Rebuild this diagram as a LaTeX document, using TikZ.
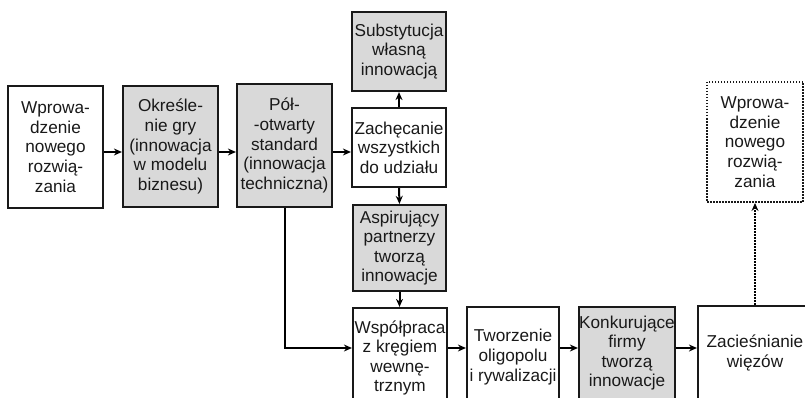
\documentclass[tikz,border=0pt]{standalone}
\usepackage{fontspec}
\setmainfont{Liberation Sans}
\usetikzlibrary{arrows.meta,positioning}

\begin{document}
\begin{tikzpicture}[x=1pt, y=-1pt, arrow/.style = {line width=2pt,-{Stealth[length=8pt,width=7pt]}}]
		\tikzset{box/.style={draw=black!90,line width=2.2pt,inner sep=0pt,align=center,text=black!90,font=\fontsize{17.2}{19.6}\selectfont}}
		\tikzset{shaded/.style={box,fill=black!15}}
		\tikzset{ghost/.style={box,line width=2pt,dash pattern=on 1.5pt off 1.5pt}}

		\useasboundingbox (0,0) rectangle (805,398);
		\clip (0,0) rectangle (805,398);

		% rows of connectors
		\coordinate (rowtop) at (0,152);
		\coordinate (rowbot) at (0,348);

		% upper row
		\node[box, minimum width=95pt, minimum height=122pt] (wprow) at (55.5,147) {Wprowa-\\dzenie\\nowego\\rozwią-\\zania};

		\node[shaded, minimum width=95pt, minimum height=121pt] (gry) at (170.5,146.5) {Określe-\\nie gry\\(innowacja\\w modelu\\biznesu)};

		\node[shaded, minimum width=95pt, minimum height=123pt] (standard) at (284.5,145.5) {Pół-\\-otwarty\\standard\\(innowacja\\techniczna)};

		% middle column
		\node[shaded, minimum width=94pt, minimum height=79pt] (subst) at (399,51.5) {Substytucja\\własną\\innowacją};

		\node[box, minimum width=94pt, minimum height=79pt] (zachec) at (399,147.5) {Zachęcanie\\wszystkich\\do udziału};

		\node[shaded, minimum width=93pt, minimum height=86pt] (aspir) at (399.5,248) {Aspirujący\\partnerzy\\tworzą\\innowacje};

		% lower row
		\node[box, minimum width=94pt, minimum height=100pt] (wspol) at (400,358) {Współpraca\\z kręgiem\\wewnę-\\trznym};

		\node[box, minimum width=92pt, minimum height=100pt] (oligo) at (513,357) {Tworzenie\\oligopolu\\i rywalizacji};

		\node[shaded, minimum width=96pt, minimum height=92pt] (konk) at (627,353) {Konkurujące\\firmy\\tworzą\\innowacje};

		\node[box, minimum width=114pt, minimum height=94pt] (wiezy) at (755,353) {Zacieśnianie\\więzów};

		% next round
		\node[ghost, minimum width=96pt, minimum height=120pt] (nowe) at (755,142) {Wprowa-\\dzenie\\nowego\\rozwią-\\zania};

		% Arrows
		\draw [arrow] (wprow.east |- rowtop) -- (gry.west |- rowtop);
		\draw [arrow] (gry.east |- rowtop) -- (standard.west |- rowtop);
		\draw [arrow] (standard.east |- rowtop) -- (zachec.west |- rowtop);
		\draw [arrow] (zachec.north) -- (subst.south);
		\draw [arrow] (zachec.south) -- (aspir.north);
		\draw [arrow] (aspir.south) -- (aspir.south |- wspol.north);
		\draw [arrow] (standard.south) |- (wspol.west |- rowbot);
		\draw [arrow] (wspol.east |- rowbot) -- (oligo.west |- rowbot);
		\draw [arrow] (oligo.east |- rowbot) -- (konk.west |- rowbot);
		\draw [arrow] (konk.east |- rowbot) -- (wiezy.west |- rowbot);
		\draw [arrow, dash pattern=on 1.5pt off 1.5pt] (wiezy.north) -- (nowe.south);

	\end{tikzpicture}
\end{document}
